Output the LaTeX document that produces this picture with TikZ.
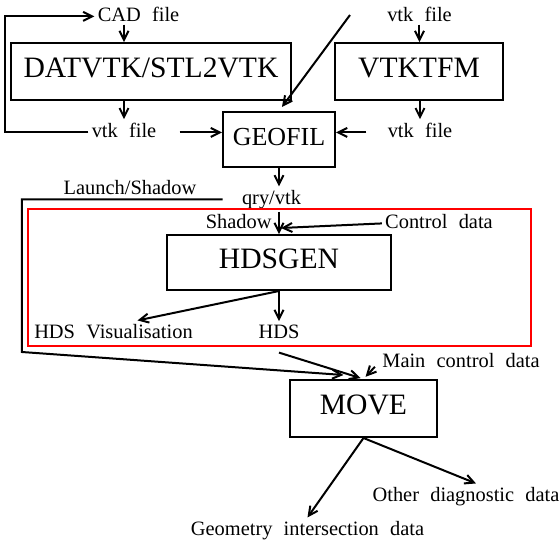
\documentclass[tikz,border=0pt]{standalone}
\usepackage{fontspec}
\setmainfont{Liberation Serif}[WordSpace=2.2]
\usetikzlibrary{positioning,arrows.meta}
\def\ProgHeight{28.5pt}
\def\SmallSize{\fontsize{10.2pt}{12pt}\selectfont}
\def\LargeSize{\fontsize{14.8pt}{17pt}\selectfont}
\tikzset{
  flow/.style={-{Straight Barb[length=4.5pt,width=4.5pt]},line width=1pt},
  prog/.style={
    draw=black,
    line width=1pt,
    inner sep=0pt,
    minimum height=\ProgHeight,
    text height=10pt,
    text depth=4pt,
    font=\LargeSize
  },
  datatext/.style={inner sep=1.5pt,font=\SmallSize,anchor=base}
}

\begin{document}
\begin{tikzpicture}[x=0.5pt,y=-0.5pt]
  \useasboundingbox (0,0) rectangle (559,559);

  % Programs.
  \node[prog, minimum width=140pt] (datvtk) at (151,71.5) {DATVTK/STL2VTK};
  \node[prog, minimum width=84pt] (vtktfm) at (419,71.5) {VTKTFM};
  \node[prog, minimum width=56pt, minimum height=27.5pt,
        font=\fontsize{13pt}{15pt}\selectfont] (geofil) at (279,139.5) {GEOFIL};
  \node[prog, minimum width=112pt, minimum height=27.5pt] (hdsgen) at (279,262.5) {HDSGEN};
  \node[prog, minimum width=73.5pt] (move) at (363.5,408.5) {MOVE};

  % Files and data.
  \node[datatext] (cad) at (138.5,21) {CAD file};
  \node[datatext] (vtkin) at (419.5,21) {vtk file};
  \node[datatext] (vtkl) at (124,137) {vtk file};
  \node[datatext] (vtkr) at (420,137) {vtk file};
  \node[datatext] (launch) at (130,194) {Launch/Shadow};
  \node[datatext] (qry) at (271.5,204) {qry/vtk};
  \node[datatext, anchor=base east] (shadow) at (275,228) {Shadow};
  \node[datatext] (ctrl) at (439,228) {Control data};
  \node[datatext] (hdsvis) at (113.5,338) {HDS Visualisation};
  \node[datatext] (hds) at (279,338) {HDS};
  \node[datatext] (mainctl) at (461,367) {Main control data};
  \node[datatext] (other) at (466,501) {Other diagnostic data};
  \node[datatext] (geo) at (307.5,535) {Geometry intersection data};

  \coordinate (loop) at (5,0);
  \coordinate (extin) at (350,15);
  \coordinate (bend) at (22,352);
  \coordinate (ctrlin) at ([xshift=1pt,yshift=3pt]hdsgen.north);

  % Geometry preparation.
  \draw[flow] (vtkl.mid west) -| (loop |- cad.mid west) -- (cad.mid west);
  \draw[flow] (cad.south -| vtkl) -- (datvtk.north -| vtkl);
  \draw[flow] (datvtk.south -| vtkl) -- (vtkl.north);
  \draw[flow, shorten <=10pt] (vtkl.mid east) -- (vtkl.mid east -| geofil.west);
  \draw[flow] (vtkin.south) -- (vtkin.south |- vtktfm.north);
  \draw[flow] (vtktfm.south -| vtkr) -- (vtkr.north);
  \draw[flow, shorten <=9pt] (vtkr.mid west) -- (vtkr.mid west -| geofil.east);
  \draw[flow, shorten >=2.5pt] (extin) -- (geofil.north);
  \draw[flow] (geofil.south) -- (geofil.south |- qry.north);

  % HDS generation.
  \draw[flow] (hdsgen.north |- qry.south) -- (hdsgen.north);
  \draw[flow] (ctrl.mid west) -- (ctrlin);
  \draw[flow] (hdsgen.south) -- ([xshift=12pt]hdsvis.north);
  \draw[flow] (hdsgen.south) -- (hds.north);
  \draw[red, line width=1pt] (28,209) rectangle (531,346);

  % Movement.
  \draw[flow, shorten <=8pt] (qry.mid west) -| (bend) -- ([xshift=-10pt,yshift=2pt]move.north);
  \draw[flow, shorten >=1.5pt] ([yshift=-5.5pt]hds.south) -- (move.north);
  \draw[flow, shorten <=3pt, shorten >=1.5pt] (mainctl.mid west) -- (move.north);
  \draw[flow] (move.south) -- (geo.north);
  \draw[flow] (move.south) -- ([xshift=5pt]other.north);
\end{tikzpicture}
\end{document}
